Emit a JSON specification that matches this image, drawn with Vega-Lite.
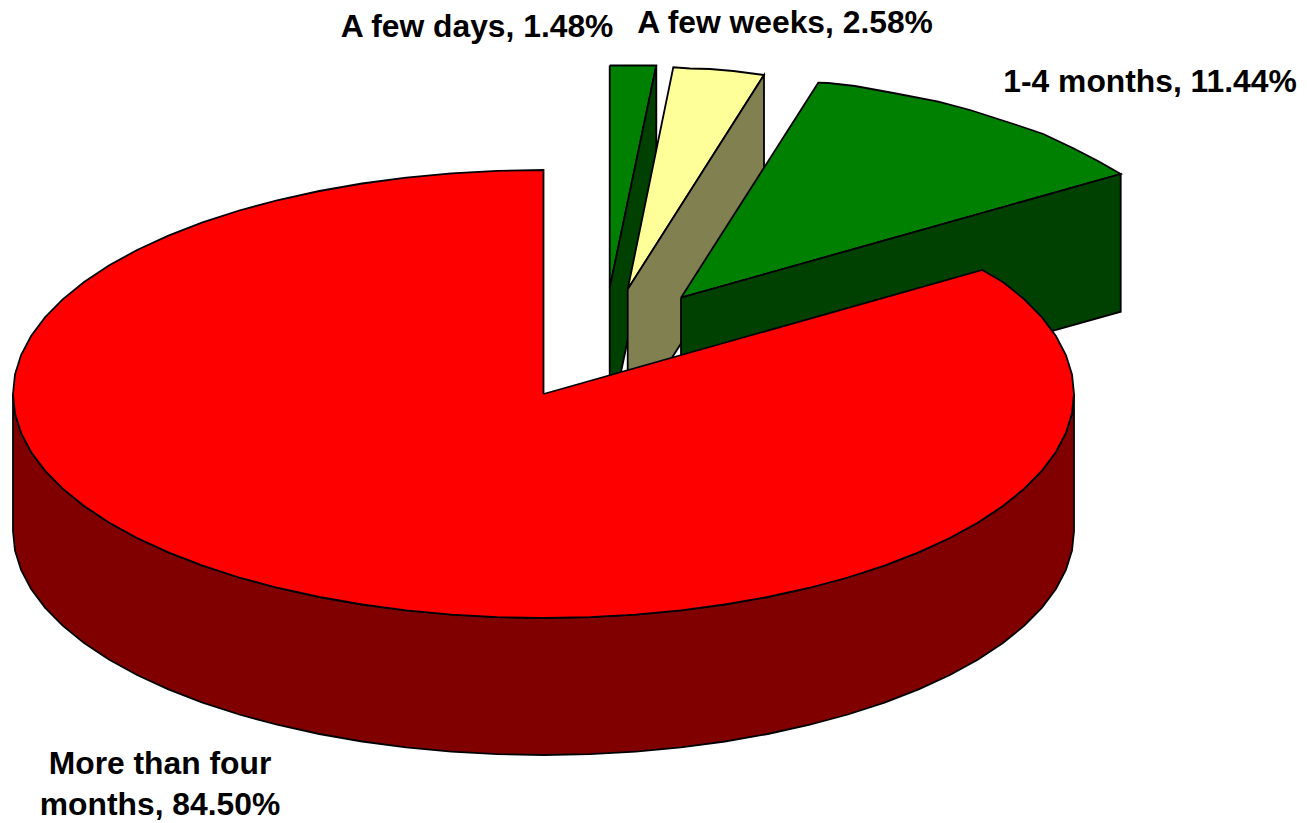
{"$schema":"https://vega.github.io/schema/vega-lite/v6.json","width":1307,"height":823,"padding":0,"autosize":{"type":"none"},"background":"white","view":{"stroke":null},
"layer":[
{"data":{"values":[
{"part":"A few days top","n":1,"x":609.7,"y":65.5},{"part":"A few days top","n":2,"x":656.3,"y":65.5},{"part":"A few days top","n":3,"x":609.7,"y":288},{"part":"A few days top","n":4,"x":609.7,"y":65.5},
{"part":"A few days side","n":1,"x":609.7,"y":288},{"part":"A few days side","n":2,"x":656.3,"y":65.5},{"part":"A few days side","n":3,"x":656.3,"y":203.5},{"part":"A few days side","n":4,"x":609.7,"y":426},{"part":"A few days side","n":5,"x":609.7,"y":288},
{"part":"A few weeks top","n":1,"x":627.7,"y":289.3},{"part":"A few weeks top","n":2,"x":673.3,"y":67.3},{"part":"A few weeks top","n":3,"x":690,"y":68.5},{"part":"A few weeks top","n":4,"x":710,"y":69},{"part":"A few weeks top","n":5,"x":733.3,"y":71},{"part":"A few weeks top","n":6,"x":764,"y":75},{"part":"A few weeks top","n":7,"x":627.7,"y":289.3},
{"part":"A few weeks side","n":1,"x":627.7,"y":289.3},{"part":"A few weeks side","n":2,"x":764,"y":75},{"part":"A few weeks side","n":3,"x":764,"y":213},{"part":"A few weeks side","n":4,"x":627.7,"y":427.3},{"part":"A few weeks side","n":5,"x":627.7,"y":289.3},
{"part":"1-4 months top","n":1,"x":681,"y":297.7},{"part":"1-4 months top","n":2,"x":818.3,"y":82.7},{"part":"1-4 months top","n":3,"x":828.3,"y":83},{"part":"1-4 months top","n":4,"x":855,"y":86},{"part":"1-4 months top","n":5,"x":896,"y":93.5},{"part":"1-4 months top","n":6,"x":938.3,"y":101.7},{"part":"1-4 months top","n":7,"x":970,"y":110},{"part":"1-4 months top","n":8,"x":1016.7,"y":125},{"part":"1-4 months top","n":9,"x":1043.3,"y":134},{"part":"1-4 months top","n":10,"x":1073.3,"y":148.3},{"part":"1-4 months top","n":11,"x":1098,"y":161},{"part":"1-4 months top","n":12,"x":1120.7,"y":174},{"part":"1-4 months top","n":13,"x":681,"y":297.7},
{"part":"1-4 months side","n":1,"x":681,"y":297.7},{"part":"1-4 months side","n":2,"x":1120.7,"y":174},{"part":"1-4 months side","n":3,"x":1120.7,"y":311.7},{"part":"1-4 months side","n":4,"x":681,"y":435},{"part":"1-4 months side","n":5,"x":681,"y":297.7},
{"part":"More than four side","n":1,"x":13,"y":394},{"part":"More than four side","n":2,"x":15,"y":413.5},{"part":"More than four side","n":3,"x":21.1,"y":432.9},{"part":"More than four side","n":4,"x":31.1,"y":452},{"part":"More than four side","n":5,"x":45,"y":470.6},{"part":"More than four side","n":6,"x":62.7,"y":488.7},{"part":"More than four side","n":7,"x":84.1,"y":506},{"part":"More than four side","n":8,"x":108.9,"y":522.5},{"part":"More than four side","n":9,"x":137.1,"y":538},{"part":"More than four side","n":10,"x":168.4,"y":552.4},{"part":"More than four side","n":11,"x":202.5,"y":565.6},{"part":"More than four side","n":12,"x":239.2,"y":577.5},{"part":"More than four side","n":13,"x":278.2,"y":588},{"part":"More than four side","n":14,"x":319.3,"y":597},{"part":"More than four side","n":15,"x":362.1,"y":604.5},{"part":"More than four side","n":16,"x":406.2,"y":610.4},{"part":"More than four side","n":17,"x":451.4,"y":614.6},{"part":"More than four side","n":18,"x":497.2,"y":617.1},{"part":"More than four side","n":19,"x":543.5,"y":618},{"part":"More than four side","n":20,"x":589.8,"y":617.1},{"part":"More than four side","n":21,"x":635.6,"y":614.6},{"part":"More than four side","n":22,"x":680.8,"y":610.4},{"part":"More than four side","n":23,"x":724.9,"y":604.5},{"part":"More than four side","n":24,"x":767.7,"y":597},{"part":"More than four side","n":25,"x":808.8,"y":588},{"part":"More than four side","n":26,"x":847.8,"y":577.5},{"part":"More than four side","n":27,"x":884.5,"y":565.6},{"part":"More than four side","n":28,"x":918.6,"y":552.4},{"part":"More than four side","n":29,"x":949.9,"y":538},{"part":"More than four side","n":30,"x":978.1,"y":522.5},{"part":"More than four side","n":31,"x":1002.9,"y":506},{"part":"More than four side","n":32,"x":1024.3,"y":488.7},{"part":"More than four side","n":33,"x":1042,"y":470.6},{"part":"More than four side","n":34,"x":1055.9,"y":452},{"part":"More than four side","n":35,"x":1065.9,"y":432.9},{"part":"More than four side","n":36,"x":1072,"y":413.5},{"part":"More than four side","n":37,"x":1074,"y":394},
{"part":"More than four side","n":38,"x":1074,"y":531},{"part":"More than four side","n":39,"x":1072,"y":550.5},{"part":"More than four side","n":40,"x":1065.9,"y":569.9},{"part":"More than four side","n":41,"x":1055.9,"y":589},{"part":"More than four side","n":42,"x":1042,"y":607.6},{"part":"More than four side","n":43,"x":1024.3,"y":625.7},{"part":"More than four side","n":44,"x":1002.9,"y":643},{"part":"More than four side","n":45,"x":978.1,"y":659.5},{"part":"More than four side","n":46,"x":949.9,"y":675},{"part":"More than four side","n":47,"x":918.6,"y":689.4},{"part":"More than four side","n":48,"x":884.5,"y":702.6},{"part":"More than four side","n":49,"x":847.8,"y":714.5},{"part":"More than four side","n":50,"x":808.8,"y":725},{"part":"More than four side","n":51,"x":767.7,"y":734},{"part":"More than four side","n":52,"x":724.9,"y":741.5},{"part":"More than four side","n":53,"x":680.8,"y":747.4},{"part":"More than four side","n":54,"x":635.6,"y":751.6},{"part":"More than four side","n":55,"x":589.8,"y":754.1},{"part":"More than four side","n":56,"x":543.5,"y":755},{"part":"More than four side","n":57,"x":497.2,"y":754.1},{"part":"More than four side","n":58,"x":451.4,"y":751.6},{"part":"More than four side","n":59,"x":406.2,"y":747.4},{"part":"More than four side","n":60,"x":362.1,"y":741.5},{"part":"More than four side","n":61,"x":319.3,"y":734},{"part":"More than four side","n":62,"x":278.2,"y":725},{"part":"More than four side","n":63,"x":239.2,"y":714.5},{"part":"More than four side","n":64,"x":202.5,"y":702.6},{"part":"More than four side","n":65,"x":168.4,"y":689.4},{"part":"More than four side","n":66,"x":137.1,"y":675},{"part":"More than four side","n":67,"x":108.9,"y":659.5},{"part":"More than four side","n":68,"x":84.1,"y":643},{"part":"More than four side","n":69,"x":62.7,"y":625.7},{"part":"More than four side","n":70,"x":45,"y":607.6},{"part":"More than four side","n":71,"x":31.1,"y":589},{"part":"More than four side","n":72,"x":21.1,"y":569.9},{"part":"More than four side","n":73,"x":15,"y":550.5},{"part":"More than four side","n":74,"x":13,"y":531},{"part":"More than four side","n":75,"x":13,"y":394},
{"part":"More than four top","n":1,"x":543.5,"y":394},{"part":"More than four top","n":2,"x":543.5,"y":170},{"part":"More than four top","n":3,"x":497.2,"y":170.9},{"part":"More than four top","n":4,"x":451.4,"y":173.4},{"part":"More than four top","n":5,"x":406.2,"y":177.6},{"part":"More than four top","n":6,"x":362.1,"y":183.5},{"part":"More than four top","n":7,"x":319.3,"y":191},{"part":"More than four top","n":8,"x":278.2,"y":200},{"part":"More than four top","n":9,"x":239.2,"y":210.5},{"part":"More than four top","n":10,"x":202.5,"y":222.4},{"part":"More than four top","n":11,"x":168.4,"y":235.6},{"part":"More than four top","n":12,"x":137.1,"y":250},{"part":"More than four top","n":13,"x":108.9,"y":265.5},{"part":"More than four top","n":14,"x":84.1,"y":282},{"part":"More than four top","n":15,"x":62.7,"y":299.3},{"part":"More than four top","n":16,"x":45,"y":317.4},{"part":"More than four top","n":17,"x":31.1,"y":336},{"part":"More than four top","n":18,"x":21.1,"y":355.1},{"part":"More than four top","n":19,"x":15,"y":374.5},{"part":"More than four top","n":20,"x":13,"y":394},{"part":"More than four top","n":21,"x":15,"y":413.5},{"part":"More than four top","n":22,"x":21.1,"y":432.9},{"part":"More than four top","n":23,"x":31.1,"y":452},{"part":"More than four top","n":24,"x":45,"y":470.6},{"part":"More than four top","n":25,"x":62.7,"y":488.7},{"part":"More than four top","n":26,"x":84.1,"y":506},{"part":"More than four top","n":27,"x":108.9,"y":522.5},{"part":"More than four top","n":28,"x":137.1,"y":538},{"part":"More than four top","n":29,"x":168.4,"y":552.4},{"part":"More than four top","n":30,"x":202.5,"y":565.6},{"part":"More than four top","n":31,"x":239.2,"y":577.5},{"part":"More than four top","n":32,"x":278.2,"y":588},{"part":"More than four top","n":33,"x":319.3,"y":597},{"part":"More than four top","n":34,"x":362.1,"y":604.5},{"part":"More than four top","n":35,"x":406.2,"y":610.4},{"part":"More than four top","n":36,"x":451.4,"y":614.6},{"part":"More than four top","n":37,"x":497.2,"y":617.1},{"part":"More than four top","n":38,"x":543.5,"y":618},{"part":"More than four top","n":39,"x":589.8,"y":617.1},{"part":"More than four top","n":40,"x":635.6,"y":614.6},{"part":"More than four top","n":41,"x":680.8,"y":610.4},{"part":"More than four top","n":42,"x":724.9,"y":604.5},{"part":"More than four top","n":43,"x":767.7,"y":597},{"part":"More than four top","n":44,"x":808.8,"y":588},{"part":"More than four top","n":45,"x":847.8,"y":577.5},{"part":"More than four top","n":46,"x":884.5,"y":565.6},{"part":"More than four top","n":47,"x":918.6,"y":552.4},{"part":"More than four top","n":48,"x":949.9,"y":538},{"part":"More than four top","n":49,"x":978.1,"y":522.5},{"part":"More than four top","n":50,"x":1002.9,"y":506},{"part":"More than four top","n":51,"x":1024.3,"y":488.7},{"part":"More than four top","n":52,"x":1042,"y":470.6},{"part":"More than four top","n":53,"x":1055.9,"y":452},{"part":"More than four top","n":54,"x":1065.9,"y":432.9},{"part":"More than four top","n":55,"x":1072,"y":413.5},{"part":"More than four top","n":56,"x":1074,"y":394},{"part":"More than four top","n":57,"x":1072,"y":374.5},{"part":"More than four top","n":58,"x":1065.9,"y":355.1},{"part":"More than four top","n":59,"x":1055.9,"y":336},{"part":"More than four top","n":60,"x":1042,"y":317.4},{"part":"More than four top","n":61,"x":1024.3,"y":299.3},{"part":"More than four top","n":62,"x":1002.9,"y":282},{"part":"More than four top","n":63,"x":982.3,"y":270},{"part":"More than four top","n":64,"x":543.5,"y":394}
]},
"mark":{"type":"line","stroke":"black","strokeWidth":1.8,"strokeJoin":"miter"},
"encoding":{
"x":{"field":"x","type":"quantitative","scale":{"domain":[0,1307],"nice":false,"zero":false},"axis":null},
"y":{"field":"y","type":"quantitative","scale":{"domain":[0,823],"nice":false,"zero":false,"reverse":true},"axis":null},
"order":{"field":"n","type":"quantitative"},
"detail":{"field":"part"},
"fill":{"field":"part","type":"nominal","legend":null,"scale":{"domain":["A few days top","A few days side","A few weeks top","A few weeks side","1-4 months top","1-4 months side","More than four side","More than four top"],"range":["#008000","#004000","#FFFF99","#808050","#008000","#004000","#800000","#FF0000"]}}
}},
{"data":{"values":[
{"label":"A few days, 1.48%","x":477,"y":27},
{"label":"A few weeks, 2.58%","x":785,"y":23},
{"label":"1-4 months, 11.44%","x":1150,"y":82},
{"label":"More than four","x":160,"y":764},
{"label":"months, 84.50%","x":160,"y":805}
]},
"mark":{"type":"text","font":"Liberation Sans","fontWeight":"bold","fontSize":31.8,"align":"center","baseline":"middle","color":"black"},
"encoding":{
"x":{"field":"x","type":"quantitative","scale":{"domain":[0,1307],"nice":false,"zero":false},"axis":null},
"y":{"field":"y","type":"quantitative","scale":{"domain":[0,823],"nice":false,"zero":false,"reverse":true},"axis":null},
"text":{"field":"label","type":"nominal"}
}}
]}
